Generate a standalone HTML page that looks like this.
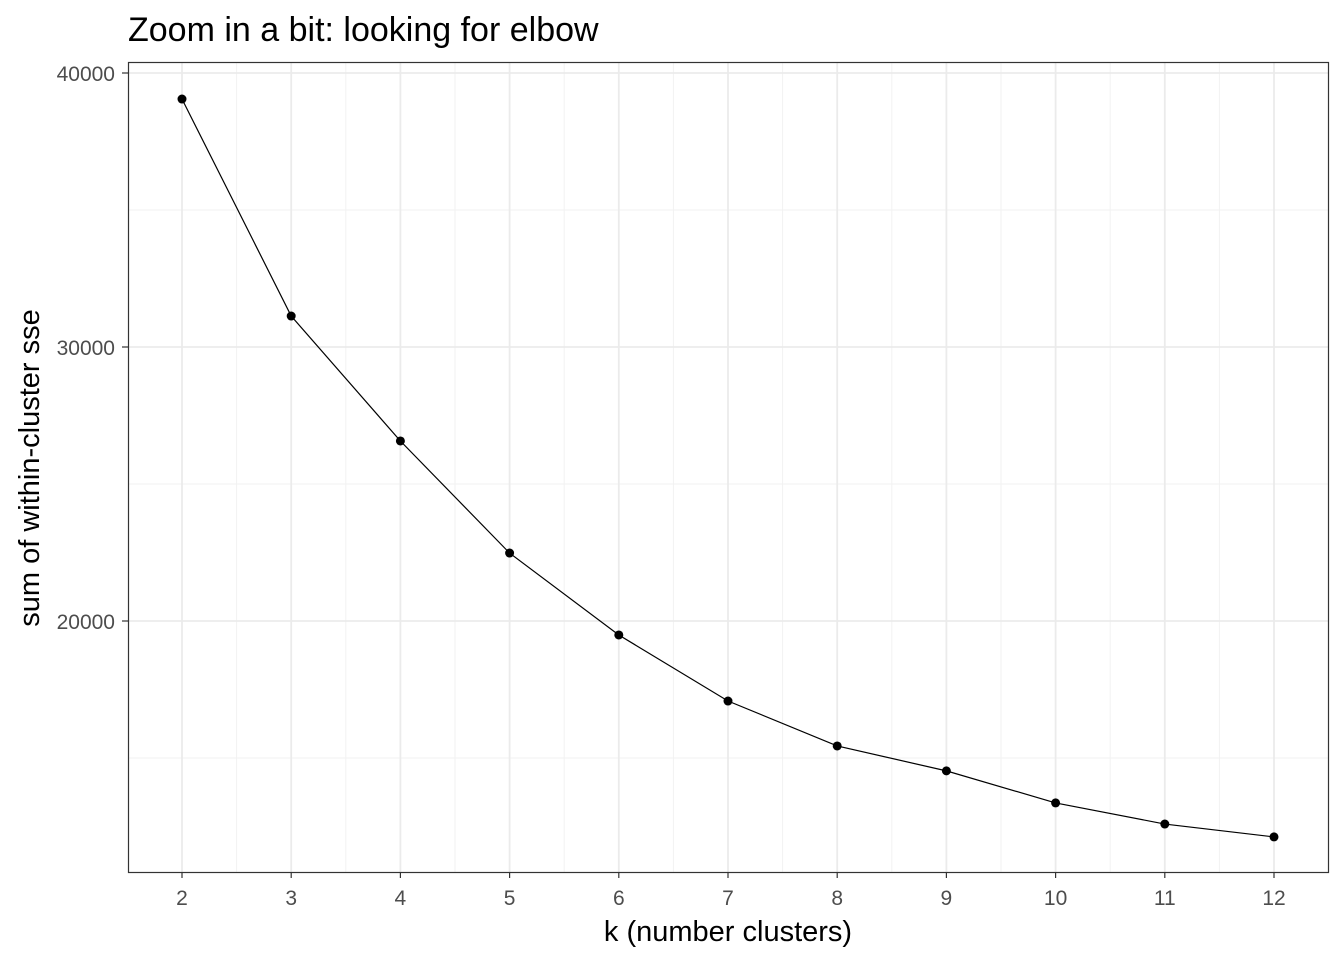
<!DOCTYPE html>
<html><head><meta charset="utf-8"><style>
body{margin:0;background:#fff;}
svg text{font-family:"Liberation Sans",Arial,sans-serif;}
</style></head><body>
<svg id="chart" width="1344" height="960">
<text x="128" y="41" font-size="34" fill="#000">Zoom in a bit: looking for elbow</text>
<rect x="128" y="62" width="1201" height="810" fill="#fff" stroke="none"/>
<g id="grid"></g>
<g id="marks"></g>
<rect x="128.5" y="62.5" width="1200" height="810" fill="none" stroke="#333" stroke-width="1.2"/>
<g id="axes"></g>
<text x="728" y="941" font-size="29" text-anchor="middle" fill="#000">k (number clusters)</text>
<text transform="translate(39,468) rotate(-90)" font-size="29" text-anchor="middle" fill="#000">sum of within-cluster sse</text>
</svg>
<script>
const ks=[2,3,4,5,6,7,8,9,10,11,12];
const sse=[39050,31130,26570,22480,19490,17080,15440,14530,13360,12590,12120];
const yTicks=[20000,30000,40000];
const yMinor=[15000,25000,35000];
const NS="http://www.w3.org/2000/svg";
const X=k=>182+(k-2)*109.2;
const Y=v=>73+(40000-v)/10000*274;
const grid=document.getElementById('grid'),marks=document.getElementById('marks'),axes=document.getElementById('axes');
function mk(tag,attrs,parent){const e=document.createElementNS(NS,tag);for(const a in attrs)e.setAttribute(a,attrs[a]);parent.appendChild(e);return e;}
yMinor.forEach(v=>{const l=mk('line',{x1:128,x2:1329,y1:Y(v),y2:Y(v),stroke:'#f2f2f2','stroke-width':1},grid);

});
for(let i=0;i<ks.length-1;i++){const l=mk('line',{y1:62,y2:872,x1:X(ks[i]+0.5),x2:X(ks[i]+0.5),stroke:'#f2f2f2','stroke-width':1},grid);

}
yTicks.forEach(v=>{const l=mk('line',{x1:128,x2:1329,y1:Y(v),y2:Y(v),stroke:'#ebebeb','stroke-width':1.8},grid);


const t=mk('line',{x1:122,x2:128,y1:Y(v),y2:Y(v),stroke:'#333','stroke-width':1.2},axes);


const tx=mk('text',{x:115,y:Y(v)+8,'font-size':21,'text-anchor':'end',fill:'#4d4d4d'},axes);tx.textContent=v;

});
ks.forEach(k=>{const l=mk('line',{y1:62,y2:872,x1:X(k),x2:X(k),stroke:'#ebebeb','stroke-width':1.8},grid);


const t=mk('line',{y1:872,y2:878,x1:X(k),x2:X(k),stroke:'#333','stroke-width':1.2},axes);


const tx=mk('text',{x:X(k),y:905,'font-size':21,'text-anchor':'middle',fill:'#4d4d4d'},axes);tx.textContent=k;

});
const pl=mk('polyline',{points:ks.map((k,i)=>X(k)+','+Y(sse[i])).join(' '),fill:'none',stroke:'#000','stroke-width':1.2},marks);


ks.forEach((k,i)=>{const c=mk('circle',{cx:X(k),cy:Y(sse[i]),r:4.5,fill:'#000'},marks);

});
</script>
</body></html>
